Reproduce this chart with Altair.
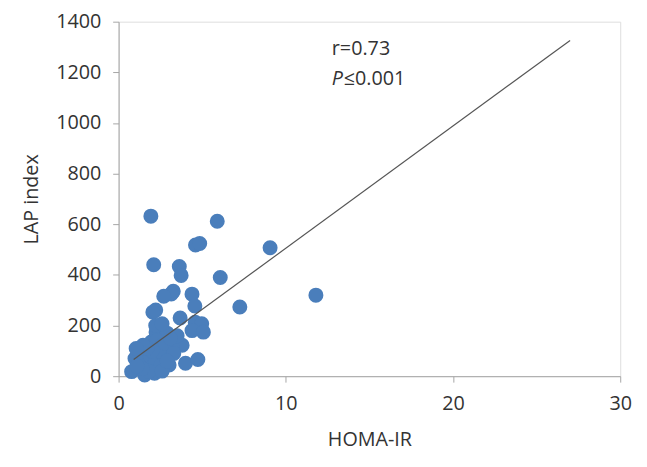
import altair as alt
import pandas as pd

homa_ir = [1.93, 5.9, 4.6, 4.85, 2.1, 3.63, 3.74, 6.08, 9.06, 11.8, 7.25, 3.27, 3.15, 2.7,
           4.39, 2.22, 4.56, 3.68, 4.58, 4.97, 4.39, 5.07, 4.0, 4.74,
           2.44, 2.6, 2.24, 2.9, 3.41, 3.8, 3.2, 1.17, 1.95, 2.3, 2.6, 3.02, 2.7, 3.02,
           0.78, 1.56, 2.15, 0.98, 1.3, 1.6, 1.9, 2.2, 2.5, 1.8, 2.4, 1.4, 2.8, 3.3,
           2.0, 1.1, 2.6, 3.5, 1.7, 2.05, 2.22, 2.6, 1.46, 1.05, 2.9, 3.1]
lap_index = [632, 612, 518, 524, 440, 433, 398, 390, 507, 320, 273, 335, 325, 316,
             324, 261, 277, 230, 213, 207, 180, 174, 51, 66,
             194, 180, 174, 170, 148, 122, 120, 103, 135, 140, 120, 96, 80, 44,
             18, 5, 12, 70, 60, 40, 80, 60, 40, 20, 100, 30, 130, 90,
             100, 40, 20, 160, 110, 253, 200, 207, 122, 109, 60, 150]

line_x = [0.9, 27.0]
line_y = [66, 1326]

pts = pd.DataFrame({"x": homa_ir, "y": lap_index})
ln = pd.DataFrame({"x": line_x, "y": line_y})

FONT = "Open Sans"
FS = 20
xs = alt.Scale(domain=[0, 30], nice=False)
ys = alt.Scale(domain=[0, 1400], nice=False)

xax = alt.Axis(values=[0, 10, 20, 30], format="d", title="HOMA-IR", grid=False,
               labelFlush=False, labelOverlap=False,
               domainColor="#a6a6a6", tickColor="#a6a6a6", tickSize=6, labelFontSize=FS,
               labelFont=FONT, labelColor="#333333", labelPadding=12, titleFontSize=FS,
               titleFont=FONT, titleFontWeight="normal", titleColor="#333333", titlePadding=16)
yax = alt.Axis(values=list(range(0, 1401, 200)), format="d", title="LAP index", grid=False,
               labelFlush=False, labelOverlap=False,
               domainColor="#a6a6a6", tickColor="#a6a6a6", tickSize=6, labelFontSize=FS,
               labelFont=FONT, labelColor="#333333", labelPadding=12, titleFontSize=FS,
               titleFont=FONT, titleFontWeight="normal", titleColor="#333333", titlePadding=14)

points = alt.Chart(pts).mark_circle(size=230, color="#4A7EBB", opacity=1).encode(
    x=alt.X("x:Q", scale=xs, axis=xax),
    y=alt.Y("y:Q", scale=ys, axis=yax),
)

line = alt.Chart(ln).mark_line(color="#555555", strokeWidth=1.2).encode(
    x=alt.X("x:Q", scale=xs), y=alt.Y("y:Q", scale=ys)
)

ann = pd.DataFrame({"x": [12.75], "y": [1290]})
r_text = alt.Chart(ann).mark_text(text="r=0.73", align="left", baseline="middle",
                                  fontSize=FS, font=FONT, color="#333333").encode(
    x=alt.X("x:Q", scale=xs), y=alt.Y("y:Q", scale=ys))
ann2 = pd.DataFrame({"x": [12.75], "y": [1172]})
p_text = alt.Chart(ann2).mark_text(text="P", align="left", baseline="middle", fontStyle="italic",
                                   fontSize=FS, font=FONT, color="#333333").encode(
    x=alt.X("x:Q", scale=xs), y=alt.Y("y:Q", scale=ys))
p_val = alt.Chart(ann2).mark_text(text="≤0.001", align="left", baseline="middle", dx=12,
                                  fontSize=FS, font=FONT, color="#333333").encode(
    x=alt.X("x:Q", scale=xs), y=alt.Y("y:Q", scale=ys))

chart = alt.layer(points, line, r_text, p_text, p_val).properties(
    width=508, height=359,
    autosize=alt.AutoSizeParams(type="none"),
    padding={"left": 112, "top": 11, "right": 19, "bottom": 81},
).configure_view(stroke=None).configure(background="white")

chart.save("out.html", embed_options={"renderer": "svg", "actions": False})
